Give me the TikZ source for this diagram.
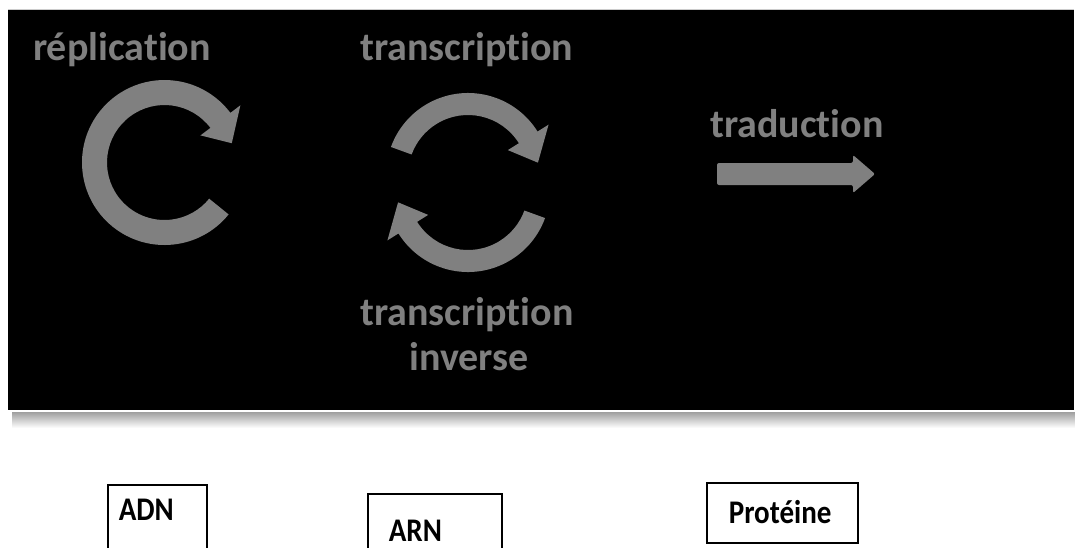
\documentclass[tikz,border=0pt]{standalone}
\usepackage{fontspec}
\setmainfont[Ligatures=NoCommon]{Carlito}
\newfontfamily\boxfont[Ligatures=NoCommon, FakeStretch=0.88]{Carlito}
\begin{document}
\begin{tikzpicture}[x=1pt,y=1pt,
  glabel/.style={text=arrgray, font=\fontsize{40}{45}\selectfont\bfseries, inner sep=0pt},
  boxnode/.style={draw=black, line width=1.6pt, fill=white, inner ysep=0pt,
     align=left, font=\boxfont\fontsize{33}{36}\selectfont\bfseries, text=black},
  shapefill/.style={fill=arrgray}
]
\definecolor{arrgray}{HTML}{808080}
\useasboundingbox (0,0) rectangle (1075,-547);
\clip (0,0) rectangle (1075,-547);
% shadow under panel
\shade[top color=gray!75, bottom color=white] (12,-412) rectangle (1075,-428);
% black panel
\fill[black] (8,-9) rectangle (1074,-410);
\draw[gray!40, line width=0.8pt] (8,-9) -- (1074,-9);
\draw[white, line width=1.5pt] (8,-411.5) -- (1075,-411.5);

% replication circular arrow
\begin{scope}[shift={(164.5,-162.5)}]
  \def\R{70}\def\W{12.5}\def\H{25}
  \def\T{-39}\def\B{-323}\def\P{-344}
  \fill[shapefill] (\T:\R+\W) arc[start angle=\T, end angle=\B, radius=\R+\W]
     -- (\B:\R+\H) -- (\P:\R) -- (\B:\R-\H) -- (\B:\R-\W)
     arc[start angle=\B, end angle=\T, radius=\R-\W] -- cycle;
\end{scope}
% transcription (top arc)
\begin{scope}[shift={(468,-175)}]
  \def\R{71}\def\W{11}\def\H{24}
  \def\T{160}\def\B{32}\def\P{10}
  \fill[shapefill] (\T:\R+\W) arc[start angle=\T, end angle=\B, radius=\R+\W]
     -- (\B:\R+\H) -- (\P:\R) -- (\B:\R-\H) -- (\B:\R-\W)
     arc[start angle=\B, end angle=\T, radius=\R-\W] -- cycle;
\end{scope}
% reverse transcription (bottom arc)
\begin{scope}[shift={(468,-190)}]
  \def\R{71}\def\W{11}\def\H{24}
  \def\T{-20}\def\B{-148}\def\P{-170}
  \fill[shapefill] (\T:\R+\W) arc[start angle=\T, end angle=\B, radius=\R+\W]
     -- (\B:\R+\H) -- (\P:\R) -- (\B:\R-\H) -- (\B:\R-\W)
     arc[start angle=\B, end angle=\T, radius=\R-\W] -- cycle;
\end{scope}
% traduction straight arrow
\fill[shapefill, rounded corners=2pt] (717,-163) -- (853,-163) -- (853,-155) -- (875,-174)
   -- (853,-193) -- (853,-185) -- (717,-185) -- cycle;

% labels
\node[glabel, anchor=base west] (repl) at (33,-60) {réplication};
\node[glabel, anchor=base west] (trans) at (360,-60) {transcription};
\node[glabel, anchor=base] (trinv) at (467,-325) {transcription};
\node[glabel, anchor=base] (inv) at (469,-370) {inverse};
\node[glabel, anchor=base west] (trad) at (710,-137) {traduction};

% boxes
\node[boxnode, anchor=north west, inner xsep=11pt, text width=77pt, text height=36pt, text depth=50pt] (adn) at (107,-484) {ADN};
\node[boxnode, anchor=north west, inner xsep=21pt, text width=92pt, text height=48pt, text depth=42pt] (arn) at (367,-493) {ARN};
\node[boxnode, anchor=north west, inner xsep=22pt, text width=107pt, text height=41pt, text depth=19pt] (prot) at (706,-482) {Protéine};
\end{tikzpicture}
\end{document}
